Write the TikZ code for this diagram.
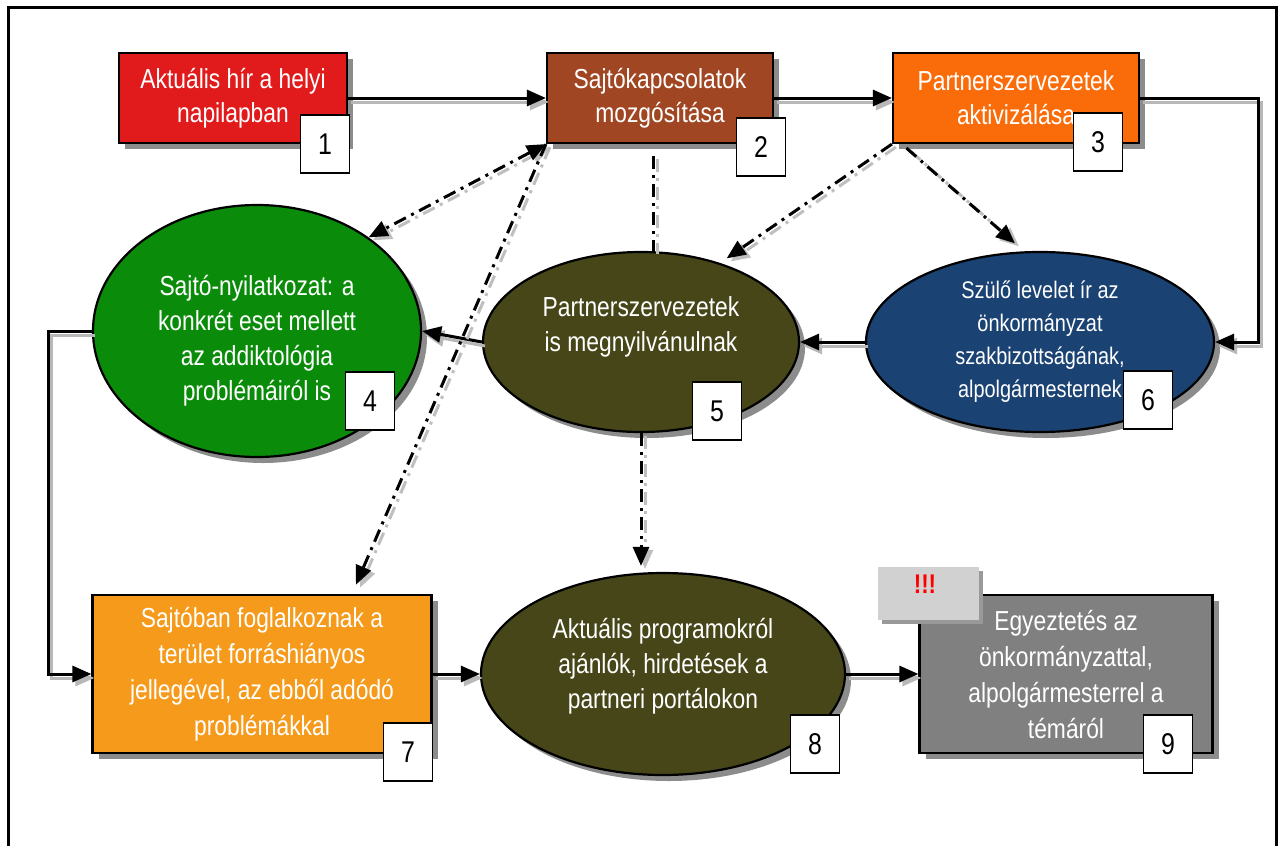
\documentclass[tikz,border=0pt]{standalone}
\usepackage{fontspec}
\setmainfont{Liberation Sans}[FakeStretch=0.83]
\usetikzlibrary{shapes.geometric,arrows.meta,shadows}

\definecolor{hirred}{HTML}{E11B1B}
\definecolor{sajtobrown}{HTML}{A04623}
\definecolor{partorange}{HTML}{FA6C0A}
\definecolor{nyilgreen}{HTML}{0A8C0A}
\definecolor{megolive}{HTML}{464619}
\definecolor{szulonavy}{HTML}{1A4273}
\definecolor{foglamber}{HTML}{F59A1A}
\definecolor{egyezgrey}{HTML}{808080}

\begin{document}
\begin{tikzpicture}[x=1pt,y=-1pt,
    box/.style={draw, line width=2.2pt, text=white, align=center,
      font=\fontsize{27.5}{34}\selectfont, inner sep=0pt,
      drop shadow={shadow xshift=6pt, shadow yshift=-6pt, fill=black!45, opacity=1}},
    oval/.style={box, ellipse},
    txt/.style={text=white, align=center, font=\fontsize{27.5}{35}\selectfont},
    num/.style={draw, line width=1.8pt, fill=white, minimum width=49pt,
      minimum height=58pt, inner sep=0pt, font=\fontsize{30}{32}\selectfont},
    flow/.style={line width=3pt, -{Triangle[length=19pt,width=16pt]},
      preaction={draw=black!28, line width=3pt, transform canvas={shift={(3pt,-4pt)}}}},
    ddash/.style={line width=3pt, dash pattern=on 13pt off 6pt on 3pt off 6pt,
      preaction={draw=black!25, line width=3pt, dash pattern=on 13pt off 6pt on 3pt off 6pt,
        transform canvas={shift={(4pt,-3pt)}}}},
    tip/.style={-{Triangle[length=19pt,width=16pt]}}]

\useasboundingbox (0,0) rectangle (1279,846);
\draw[line width=3pt] (8,846) -- (8,7) -- (1276,7) -- (1276,846);

% top row
\node[box, fill=hirred, minimum width=228pt, minimum height=90pt] (b1) at (233,98) {Aktuális hír a helyi\\napilapban};
\node[box, fill=sajtobrown, minimum width=226pt, minimum height=90pt] (b2) at (660,98) {Sajtókapcsolatok\\mozgósítása};
\node[box, fill=partorange, minimum width=246pt, minimum height=90pt] (b3) at (1016,98) {Partnerszervezetek\\aktivizálása};

% middle row
\node[oval, fill=nyilgreen, minimum width=328pt, minimum height=252pt] (e4) at (257,331) {};
\node[txt] at (257,341) {Sajtó-nyilatkozat: a\\konkrét eset mellett\\az addiktológia\\problémáiról is};
\node[oval, fill=megolive, minimum width=316pt, minimum height=180pt] (e5) at (641,342) {};
\node[txt] at (641,327) {Partnerszervezetek\\is megnyilvánulnak};
\node[oval, fill=szulonavy, minimum width=348pt, minimum height=180pt,
  font=\fontsize{24}{33}\selectfont] (e6) at (1040,342) {Szülő levelet ír az\\önkormányzat\\szakbizottságának,\\alpolgármesternek};

% bottom row
\node[box, fill=foglamber, minimum width=339pt, minimum height=158pt,
  font=\fontsize{27.5}{36}\selectfont] (b7) at (262,674) {Sajtóban foglalkoznak a\\terület forráshiányos\\jellegével, az ebből adódó\\problémákkal};
\node[oval, fill=megolive, minimum width=364pt, minimum height=202pt] (e8) at (663,674) {};
\node[txt] at (663,666) {Aktuális programokról\\ajánlók, hirdetések a\\partneri portálokon};
\node[box, fill=egyezgrey, minimum width=293pt, minimum height=158pt,
  font=\fontsize{27.5}{36}\selectfont] (b9) at (1066,674) {Egyeztetés az\\önkormányzattal,\\alpolgármesterrel a\\témáról};
\node[fill=black!18, minimum width=101pt, minimum height=53pt, inner sep=0pt,
  drop shadow={shadow xshift=4pt, shadow yshift=-4pt, fill=black!40, opacity=1}] (x9) at (928,593) {};
\node[text=red, font=\bfseries\fontsize{27}{28}\selectfont] at (925,584) {!!!};

% number boxes
\node[num] (n1) at (325,144) {1};
\node[num] (n2) at (761,147) {2};
\node[num] (n3) at (1098,142) {3};
\node[num] (n4) at (370,401) {4};
\node[num] (n5) at (717,411) {5};
\node[num] (n6) at (1148,400) {6};
\node[num] (n7) at (408,752) {7};
\node[num] (n8) at (815,744) {8};
\node[num] (n9) at (1168,744) {9};

% solid connectors
\coordinate (r6) at (1258,342);
\coordinate (l4) at (48,674);
\draw[flow] (b1.east) -- (b2.west);
\draw[flow] (b2.east) -- (b3.west);
\draw[flow] (b3.east) -| (r6) -- (e6.east);
\draw[flow] (e6.west) -- (e5.east);
\draw[flow] (e5.west) -- (e4.east);
\draw[flow] (e4.west) -| (l4) -- (b7.west);
\draw[flow] (b7.east) -- (e8.west);
\draw[flow] (e8.east) -- (b9.west);

% dash-dot connectors
\draw[ddash, {Triangle[length=19pt,width=16pt]}-{Triangle[length=19pt,width=16pt]}] (b2.south west) -- (e4.40);
\draw[ddash, tip, shorten >=10pt] (b2.south west) -- ([xshift=90pt]b7.north);
\draw[ddash, shorten <=12pt] ([xshift=-7pt]b2.south) -- ([xshift=-7pt]b2.south |- e5.north);
\draw[ddash, tip, shorten >=6pt] (e5.south) -- (e5.south |- e8.north);
\draw[ddash, tip, shorten >=8pt] (b3.south west) -- (e5.45);
\draw[ddash, tip, shorten <=6pt, shorten >=12pt] ([xshift=10pt]b3.south west) -- (e6.100);
\end{tikzpicture}
\end{document}
